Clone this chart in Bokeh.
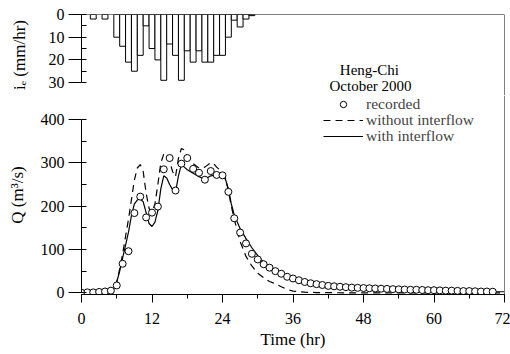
from bokeh.plotting import figure
from bokeh.models import (Range1d, LinearAxis, SingleIntervalTicker,
                          Span, Label, Legend, LegendItem)
from bokeh.layouts import column
from bokeh.embed import file_html
from bokeh.resources import INLINE

# ---------------- data ----------------
rain_hours = [2, 4, 6, 7, 8, 9, 10, 11, 12, 13, 14, 15, 16, 17, 18, 19, 20,
              21, 22, 23, 24, 25, 26, 27, 28, 29]
rain_mm = [2, 2, 10, 14, 21, 25, 18, 5, 15, 20, 29, 13, 18, 29, 16, 21, 16,
           21, 21, 18, 18, 10, 2.5, 5.5, 2, 0.5]

t_rec = list(range(0, 71))
q_rec = [0, 1, 1, 2, 3, 5, 17, 67, 96, 184, 222, 174, 185, 199, 285, 311, 236,
         298, 311, 286, 277, 261, 281, 272, 271, 233, 172, 139, 114, 90, 77,
         66, 58, 50, 44, 37, 33, 29, 25, 22, 20, 18, 16, 15, 14, 13, 12, 11.5,
         11, 10.5, 10, 9.5, 9, 8.5, 8, 7.5, 7, 7, 6.5, 6, 6, 5.5, 5, 5, 4.5,
         4, 4, 3.5, 3, 3, 2.5]

t_with = [0, 2, 4, 5, 5.5, 6, 6.5, 7, 7.5, 8, 8.5, 9, 9.5, 10, 10.5, 11, 11.5,
          12, 12.5, 13, 13.5, 14, 14.5, 15, 15.5, 16, 16.5, 17, 17.5, 18, 19,
          20, 21, 22, 23, 24, 24.5, 25, 25.5, 26, 27, 28, 29, 30, 31, 32, 33,
          34, 35, 36, 37, 38, 40, 42, 44, 46, 48, 50, 55, 60, 65, 70, 72]
q_with = [0, 1, 2, 4, 9, 25, 50, 80, 110, 140, 178, 205, 214, 217, 210, 185,
          160, 153, 163, 190, 240, 270, 265, 250, 238, 232, 270, 296, 290, 284,
          276, 268, 262, 270, 272, 270, 262, 240, 205, 180, 148, 125, 104, 86,
          71, 61, 52, 44, 38, 34, 30, 26, 21, 17, 14.5, 12.5, 11, 10, 7.5, 6,
          4.5, 3, 2.5]

t_without = [0, 2, 4, 5, 5.5, 6, 6.5, 7, 7.5, 8, 8.5, 9, 9.5, 10, 10.5, 11,
             11.5, 12, 12.5, 13, 13.5, 14, 14.5, 15, 15.5, 16, 16.5, 17, 17.5,
             18, 19, 20, 21, 22, 22.5, 23, 24, 24.5, 25, 25.5, 26, 27, 28, 29,
             30, 31, 32, 33, 34, 35, 36, 37, 38, 40, 45, 72]
q_without = [0, 1, 2, 4, 9, 25, 55, 90, 130, 170, 215, 260, 288, 296, 280, 230,
             195, 185, 205, 250, 300, 320, 322, 305, 280, 268, 310, 333, 330,
             315, 298, 288, 290, 300, 298, 290, 278, 265, 235, 200, 170, 118,
             84, 62, 45, 35, 26, 21, 14, 8, 4, 2.5, 1.5, 0.5, 0, 0]

time_ticks_interval = 12
q_ticks_interval = 100
rain_ticks_interval = 10

legend_labels = ["recorded", "without interflow", "with interflow"]
title_lines = ["Heng-Chi", "October 2000"]

FONT = "Liberation Serif"
TICK_FS = "16px"
TITLE_FS = "17px"
LEG_FS = "15.5px"
NOTE_FS = "15px"


def style_axis(ax, tick_out, minor_in, minor_out, label_std, title_std):
    ax.axis_line_color = "black"
    ax.major_tick_line_color = "black"
    ax.minor_tick_line_color = "black"
    ax.major_tick_out = tick_out
    ax.major_tick_in = 0
    ax.minor_tick_in = minor_in
    ax.minor_tick_out = minor_out
    ax.major_label_text_font = FONT
    ax.major_label_text_font_size = TICK_FS
    ax.major_label_text_color = "black"
    ax.major_label_standoff = label_std
    ax.axis_label_text_font = FONT
    ax.axis_label_text_font_size = TITLE_FS
    ax.axis_label_text_font_style = "normal"
    ax.axis_label_text_color = "black"
    ax.axis_label_standoff = title_std


# ---------------- top panel: rainfall ----------------
p1 = figure(width=510, height=95, x_range=Range1d(0, 72),
            y_range=Range1d(35.7, 0), x_axis_location=None,
            y_axis_location=None, output_backend="svg", toolbar_location=None,
            min_border_left=81, min_border_right=6, min_border_top=14,
            min_border_bottom=0)
p1.grid.visible = False
p1.outline_line_color = None
p1.background_fill_color = "white"

ay1 = LinearAxis(bounds=(0, 30),
                 ticker=SingleIntervalTicker(interval=rain_ticks_interval,
                                             num_minor_ticks=2),
                 axis_label="iₑ (mm/hr)")
style_axis(ay1, 13, 5, 0, 4, 17)
p1.add_layout(ay1, "left")
p1.add_layout(Span(location=0, dimension="width", line_color="black",
                   line_width=1))
p1.add_layout(Span(location=72, dimension="height", line_color="black",
                   line_width=1))

p1.vbar(x=rain_hours, top=0, bottom=rain_mm, width=1, fill_color="white",
        line_color="black", line_width=1)

p1.add_layout(Label(x=49.0, y=24.5, text=title_lines[0], text_align="center",
                    text_baseline="middle", text_font=FONT,
                    text_font_size=NOTE_FS, text_color="black"))
p1.add_layout(Label(x=49.2, y=31.7, text=title_lines[1], text_align="center",
                    text_baseline="middle", text_font=FONT,
                    text_font_size=NOTE_FS, text_color="black"))

# ---------------- bottom panel: discharge ----------------
p2 = figure(width=510, height=258, x_range=Range1d(0, 72),
            y_range=Range1d(-3.9, 455.3), x_axis_location=None,
            y_axis_location=None, output_backend="svg", toolbar_location=None,
            min_border_left=81, min_border_right=6, min_border_top=0,
            min_border_bottom=59)
p2.grid.visible = False
p2.outline_line_color = None
p2.background_fill_color = "white"

ax2 = LinearAxis(ticker=SingleIntervalTicker(interval=time_ticks_interval,
                                             num_minor_ticks=2),
                 axis_label="Time (hr)")
style_axis(ax2, 8, 0, 4, 10, 3)
p2.add_layout(ax2, "below")

ay2 = LinearAxis(bounds=(0, 400),
                 ticker=SingleIntervalTicker(interval=q_ticks_interval,
                                             num_minor_ticks=2),
                 axis_label="Q (m³/s)")
style_axis(ay2, 13, 5, 0, 4, 11)
p2.add_layout(ay2, "left")
p2.add_layout(Span(location=72, dimension="height", line_color="black",
                   line_width=1))

r_wo = p2.line(t_without, q_without, line_color="black", line_width=1.2,
               line_dash="7 5")
r_w = p2.line(t_with, q_with, line_color="black", line_width=1.2)
r_rec = p2.scatter(t_rec, q_rec, marker="circle", size=7, fill_color="white",
                   line_color="black", line_width=1)

# one single-item legend per row so the rows can sit as tightly as in the figure
row_bottoms = [181, 165, 149]
for lab, rend, yb in zip(legend_labels, [r_rec, r_wo, r_w], row_bottoms):
    lg = Legend(items=[LegendItem(label=lab, renderers=[rend])],
                location=(242, yb), padding=0, margin=0, spacing=0,
                glyph_width=40, glyph_height=16, label_height=16,
                label_standoff=3, label_text_font=FONT,
                label_text_font_size=LEG_FS, label_text_line_height=1.0,
                background_fill_alpha=0, border_line_color=None)
    p2.add_layout(lg)

layout = column(p1, p2, spacing=0)
open("out.html", "w").write(file_html(layout, INLINE))
